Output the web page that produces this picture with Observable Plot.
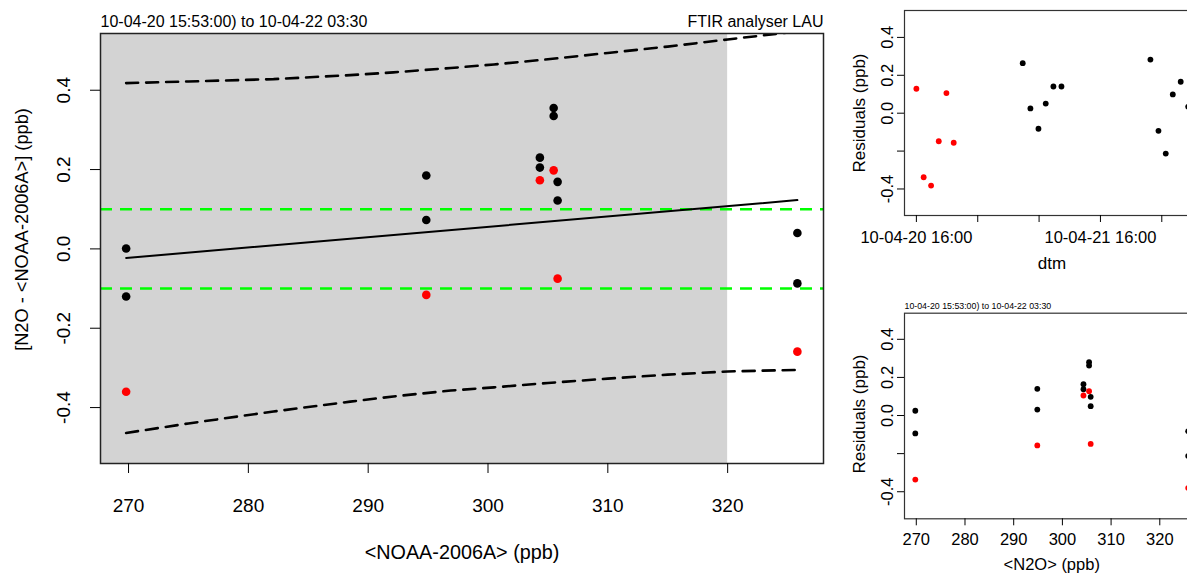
<!DOCTYPE html>
<html><head><meta charset="utf-8">
<script src="https://cdn.jsdelivr.net/npm/d3@7"></script>
<script src="https://cdn.jsdelivr.net/npm/@observablehq/plot@0.6"></script>
<style>
html,body{margin:0;padding:0;background:#fff;overflow:hidden}
#wrap{position:relative;width:1187px;height:574px;overflow:hidden;background:#fff}
#wrap > svg{position:absolute}
</style></head><body><div id="wrap"></div>
<script>
// ---------- texts ----------
const titleText = "10-04-20 15:53:00) to 10-04-22 03:30";
const instrumentText = "FTIR analyser LAU";
const mainYLabel = "[N2O - <NOAA-2006A>] (ppb)";
const mainXLabel = "<NOAA-2006A> (ppb)";
const residYLabel = "Residuals (ppb)";
const dtmXLabel = "dtm";
const n2oXLabel = "<N2O> (ppb)";

// ---------- main panel data ----------
const xTicks = [270, 280, 290, 300, 310, 320];
const yTicks = [-0.4, -0.2, 0, 0.2, 0.4];
const calibrationRange = [267.66, 320];
const toleranceLimits = [-0.1, 0.1];

const blackX = [269.8, 269.8, 294.85, 294.85, 304.33, 304.33, 305.48, 305.48, 305.81, 305.81, 325.82, 325.82];
const blackY = [0.001, -0.12, 0.185, 0.073, 0.230, 0.205, 0.355, 0.335, 0.169, 0.122, 0.040, -0.087];
const redX = [269.8, 294.85, 304.33, 305.48, 305.81, 325.82];
const redY = [-0.36, -0.116, 0.173, 0.198, -0.075, -0.259];

const fitX = [269.8, 325.82];
const fitY = [-0.023, 0.123];

const bandX = [269.8, 275, 282.1, 288.5, 292.1, 296.9, 300.5, 305, 310, 315, 320, 325.8];
const bandUpper = [0.418, 0.422, 0.428, 0.438, 0.445, 0.456, 0.465, 0.478, 0.494, 0.510, 0.528, 0.548];
const bandLower = [-0.464, -0.440, -0.410, -0.385, -0.372, -0.357, -0.349, -0.338, -0.327, -0.317, -0.309, -0.305];

// ---------- residuals vs N2O ----------
const n2oTicks = [270, 280, 290, 300, 310, 320];
const residTicks = [-0.4, -0.2, 0, 0.2, 0.4];
const residTickLabels = ["-0.4", "", "0.0", "0.2", "0.4"];
const residBlack = [0.025, -0.094, 0.140, 0.031, 0.164, 0.138, 0.280, 0.262, 0.098, 0.049, -0.082, -0.212];
const residRed = [-0.336, -0.157, 0.105, 0.128, -0.149, -0.380];

// ---------- residuals vs time ----------
const dtmTicks = ["2010-04-20T16:00", "2010-04-21T00:00", "2010-04-21T08:00", "2010-04-21T16:00", "2010-04-22T00:00"];
const dtmTickLabels = ["10-04-20 16:00", "", "", "10-04-21 16:00", ""];
const dtmRed = ["2010-04-20T16:00", "2010-04-20T16:57", "2010-04-20T17:55", "2010-04-20T18:55", "2010-04-20T19:55", "2010-04-20T20:52"];
const dtmResidRed = [0.129, -0.338, -0.382, -0.148, 0.106, -0.156];
const dtmBlack = ["2010-04-21T05:52", "2010-04-21T06:52", "2010-04-21T07:55", "2010-04-21T08:52", "2010-04-21T09:52", "2010-04-21T10:55",
                  "2010-04-21T22:31", "2010-04-21T23:34", "2010-04-22T00:31", "2010-04-22T01:26", "2010-04-22T02:28", "2010-04-22T03:26"];
const dtmResidBlack = [0.264, 0.025, -0.082, 0.051, 0.141, 0.141, 0.283, -0.093, -0.213, 0.099, 0.166, 0.034];

// ---------- helpers ----------
const FONT = '"Liberation Sans", Arial, Helvetica, sans-serif';
const utc = s => new Date(s + ":00Z");
const rows = (xs, ys) => xs.map((x, i) => ({x, y: ys[i]}));
const wrap = document.getElementById("wrap");
function place(svg, left, top) {
  svg.style.left = left + "px";
  svg.style.top = top + "px";
  wrap.appendChild(svg);
}

// ---------- main panel ----------
const bandRows = bandX.map((x, i) => ({x, upper: bandUpper[i], lower: bandLower[i]}));
const dash = "12,8";
const main = Plot.plot({
  width: 840, height: 574,
  marginLeft: 100, marginRight: 17, marginTop: 33, marginBottom: 111,
  style: {fontFamily: FONT, fontSize: "19px", background: "transparent", color: "black", overflow: "visible"},
  x: {domain: [267.66, 328.0]},
  y: {domain: [-0.541, 0.543]},
  marks: [
    Plot.rect([calibrationRange], {x1: d => d[0], x2: d => d[1], fill: "#d3d3d3"}),
    Plot.ruleY(toleranceLimits, {stroke: "#00ff00", strokeWidth: 2.5, strokeDasharray: dash}),
    Plot.line(bandRows, {x: "x", y: "upper", stroke: "black", strokeWidth: 2.6, strokeDasharray: dash, clip: true}),
    Plot.line(bandRows, {x: "x", y: "lower", stroke: "black", strokeWidth: 2.6, strokeDasharray: dash, clip: true}),
    Plot.line(rows(fitX, fitY), {x: "x", y: "y", stroke: "black", strokeWidth: 2}),
    Plot.dot(rows(blackX, blackY), {x: "x", y: "y", r: 4.3, fill: "black"}),
    Plot.dot(rows(redX, redY), {x: "x", y: "y", r: 4.3, fill: "red"}),
    Plot.frame({stroke: "#222", strokeWidth: 1.5}),
    Plot.axisX({ticks: xTicks, tickSize: 10, tickPadding: 25, fontSize: 19, label: null, tickFormat: d => String(d)}),
    Plot.axisY({ticks: yTicks, tickSize: 10, tickFormat: () => "", label: null}),
    Plot.text(yTicks, {y: d => d, text: d => d.toFixed(1), frameAnchor: "left", textAnchor: "middle", lineAnchor: "middle", dx: -37, rotate: -90, fontSize: 19}),
    Plot.text([mainYLabel], {frameAnchor: "left", textAnchor: "middle", lineAnchor: "middle", dx: -78, dy: -19, rotate: -90, fontSize: 18.2}),
    Plot.text([mainXLabel], {frameAnchor: "bottom", lineAnchor: "middle", dy: 89, fontSize: 19.8}),
    Plot.text([titleText], {frameAnchor: "top-left", lineAnchor: "middle", dy: -12, textAnchor: "start", fontSize: 16}),
    Plot.text([instrumentText], {frameAnchor: "top-right", lineAnchor: "middle", dy: -12, textAnchor: "end", fontSize: 16})
  ]
});
place(main, 0, 0);

// ---------- residuals vs time (top right) ----------
const dtmLabelMap = new Map(dtmTicks.map((t, i) => [+utc(t), dtmTickLabels[i]]));
const residLabelMap = new Map(residTicks.map((t, i) => [t, residTickLabels[i]]));
const topRight = Plot.plot({
  width: 380, height: 280,
  marginLeft: 64, marginRight: 21, marginTop: 10, marginBottom: 65,
  style: {fontFamily: FONT, fontSize: "16.5px", background: "transparent", color: "black", overflow: "visible"},
  x: {type: "utc", domain: [utc("2010-04-20T14:27"), utc("2010-04-22T04:55")]},
  y: {domain: [-0.540, 0.542]},
  marks: [
    Plot.dot(dtmRed.map((t, i) => ({x: utc(t), y: dtmResidRed[i]})), {x: "x", y: "y", r: 2.9, fill: "red"}),
    Plot.dot(dtmBlack.map((t, i) => ({x: utc(t), y: dtmResidBlack[i]})), {x: "x", y: "y", r: 2.9, fill: "black"}),
    Plot.frame({stroke: "#333", strokeWidth: 1.2}),
    Plot.axisX({ticks: dtmTicks.map(utc), tickSize: 7, tickPadding: 9, fontSize: 16.5, label: null,
                tickFormat: d => dtmLabelMap.get(+d) ?? ""}),
    Plot.axisY({ticks: residTicks, tickSize: 7, tickFormat: () => "", label: null}),
    Plot.text(residTicks, {y: d => d, text: d => residLabelMap.get(d), frameAnchor: "left", textAnchor: "middle", lineAnchor: "middle", dx: -17, rotate: -90, fontSize: 16.5}),
    Plot.text([residYLabel], {frameAnchor: "left", textAnchor: "middle", lineAnchor: "middle", dx: -45, rotate: -90, fontSize: 17}),
    Plot.text([dtmXLabel], {frameAnchor: "bottom", lineAnchor: "middle", dy: 48, fontSize: 17})
  ]
});
place(topRight, 840, 0);

// ---------- residuals vs N2O (bottom right) ----------
const bottomRight = Plot.plot({
  width: 380, height: 284,
  marginLeft: 64, marginRight: 21.5, marginTop: 22.7, marginBottom: 55.7,
  style: {fontFamily: FONT, fontSize: "16.5px", background: "transparent", color: "black", overflow: "visible"},
  x: {domain: [267.58, 328.05]},
  y: {domain: [-0.542, 0.537]},
  marks: [
    Plot.dot(rows(blackX, residBlack), {x: "x", y: "y", r: 2.9, fill: "black"}),
    Plot.dot(rows(redX, residRed), {x: "x", y: "y", r: 2.9, fill: "red"}),
    Plot.frame({stroke: "#333", strokeWidth: 1.2}),
    Plot.axisX({ticks: n2oTicks, tickSize: 7, tickPadding: 7.5, fontSize: 16.5, label: null, tickFormat: d => String(d)}),
    Plot.axisY({ticks: residTicks, tickSize: 7, tickFormat: () => "", label: null}),
    Plot.text(residTicks, {y: d => d, text: d => residLabelMap.get(d), frameAnchor: "left", textAnchor: "middle", lineAnchor: "middle", dx: -17, rotate: -90, fontSize: 16.5}),
    Plot.text([residYLabel], {frameAnchor: "left", textAnchor: "middle", lineAnchor: "middle", dx: -45, dy: -2, rotate: -90, fontSize: 17}),
    Plot.text([n2oXLabel], {frameAnchor: "bottom", lineAnchor: "middle", dy: 45.5, fontSize: 16.5}),
    Plot.text([titleText], {frameAnchor: "top-left", lineAnchor: "middle", dy: -7.4, textAnchor: "start", fontSize: 8.8})
  ]
});
place(bottomRight, 840, 290);
</script></body></html>
